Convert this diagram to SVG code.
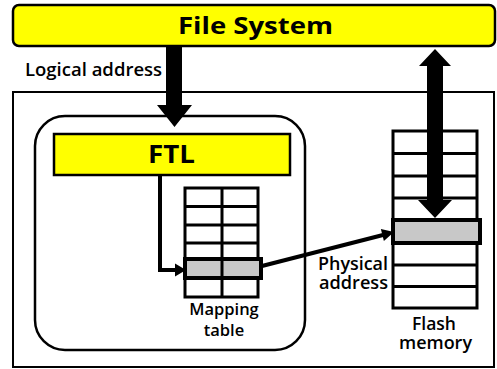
<svg xmlns="http://www.w3.org/2000/svg" width="497" height="369" viewBox="0 0 497 369">
<style>
.box{fill:#ffffff;stroke:#000;stroke-width:2.5}
.yel{fill:#ffff00;stroke:#000;stroke-width:2.5}
.cell{fill:none;stroke:#000;stroke-width:3}
.hl{fill:#c8c8c8;stroke:#000;stroke-width:4}
.title{font-family:"Open Sans","DejaVu Sans",sans-serif;font-weight:700;fill:#000}
.lbl{font-family:"Open Sans","DejaVu Sans",sans-serif;font-weight:600;fill:#000}
.wire{fill:none;stroke:#000;stroke-width:4}
</style>
<rect width="497" height="369" fill="#fff"/>
<g id="device">
<rect x="13" y="92" width="481" height="275" fill="#fff" stroke="#000" stroke-width="2"/>
</g>
<g id="file-system">
<rect class="yel" x="13" y="5" width="482" height="41" rx="6"/>
<text class="title" x="178" y="34" font-size="24" textLength="155" lengthAdjust="spacingAndGlyphs">File System</text>
</g>
<g id="ftl-box">
<rect class="box" x="35" y="116" width="270" height="234" rx="30"/>
</g>
<g id="ftl">
<rect class="yel" x="54" y="134" width="236" height="41"/>
<text class="title" x="148" y="163" font-size="25" textLength="47" lengthAdjust="spacingAndGlyphs">FTL</text>
</g>
<g id="mapping-table">
<rect class="cell" x="185" y="188" width="73" height="109"/>
<line class="cell" x1="222" y1="188" x2="222" y2="297"/>
<line class="cell" x1="185" y1="206.5" x2="258" y2="206.5"/>
<line class="cell" x1="185" y1="225" x2="258" y2="225"/>
<line class="cell" x1="185" y1="243" x2="258" y2="243"/>
<rect class="hl" x="185" y="259" width="76" height="19"/>
<line class="cell" x1="222" y1="259" x2="222" y2="278"/>
<text class="lbl" x="224" y="315" font-size="16.5" text-anchor="middle">Mapping</text>
<text class="lbl" x="224" y="336" font-size="16.5" text-anchor="middle">table</text>
</g>
<g id="flash-memory">
<rect class="cell" x="393" y="131" width="84" height="177"/>
<line class="cell" x1="393" y1="153.5" x2="477" y2="153.5"/>
<line class="cell" x1="393" y1="176" x2="477" y2="176"/>
<line class="cell" x1="393" y1="198" x2="477" y2="198"/>
<line class="cell" x1="393" y1="265" x2="477" y2="265"/>
<line class="cell" x1="393" y1="286.5" x2="477" y2="286.5"/>
<rect class="hl" x="393" y="220" width="87" height="23"/>
<text class="lbl" x="434" y="330" font-size="17.5" text-anchor="middle" textLength="44" lengthAdjust="spacingAndGlyphs">Flash</text>
<text class="lbl" x="435.5" y="349" font-size="17.5" text-anchor="middle" textLength="73" lengthAdjust="spacingAndGlyphs">memory</text>
</g>
<g id="connectors">
<polygon points="166,46 182,46 182,105 192,105 174.5,127 157,105 166,105" fill="#000"/>
<polygon points="435,49 451,66 443,66 443,200 452,200 435,218 418,200 427,200 427,66 419,66" fill="#000"/>
<path class="wire" d="M160,175 V270 H177"/>
<polygon points="175,263.5 186,270 175,276.5" fill="#000"/>
<line class="wire" x1="262" y1="266" x2="383" y2="235"/>
<polygon points="394,232 383.9,241 380.9,229" fill="#000"/>
</g>
<g id="labels">
<text class="lbl" x="25" y="76" font-size="18.5">Logical address</text>
<text class="lbl" x="388" y="270" font-size="17.5" text-anchor="end" textLength="70" lengthAdjust="spacingAndGlyphs">Physical</text>
<text class="lbl" x="388" y="289" font-size="17.5" text-anchor="end" textLength="69" lengthAdjust="spacingAndGlyphs">address</text>
</g>
</svg>
